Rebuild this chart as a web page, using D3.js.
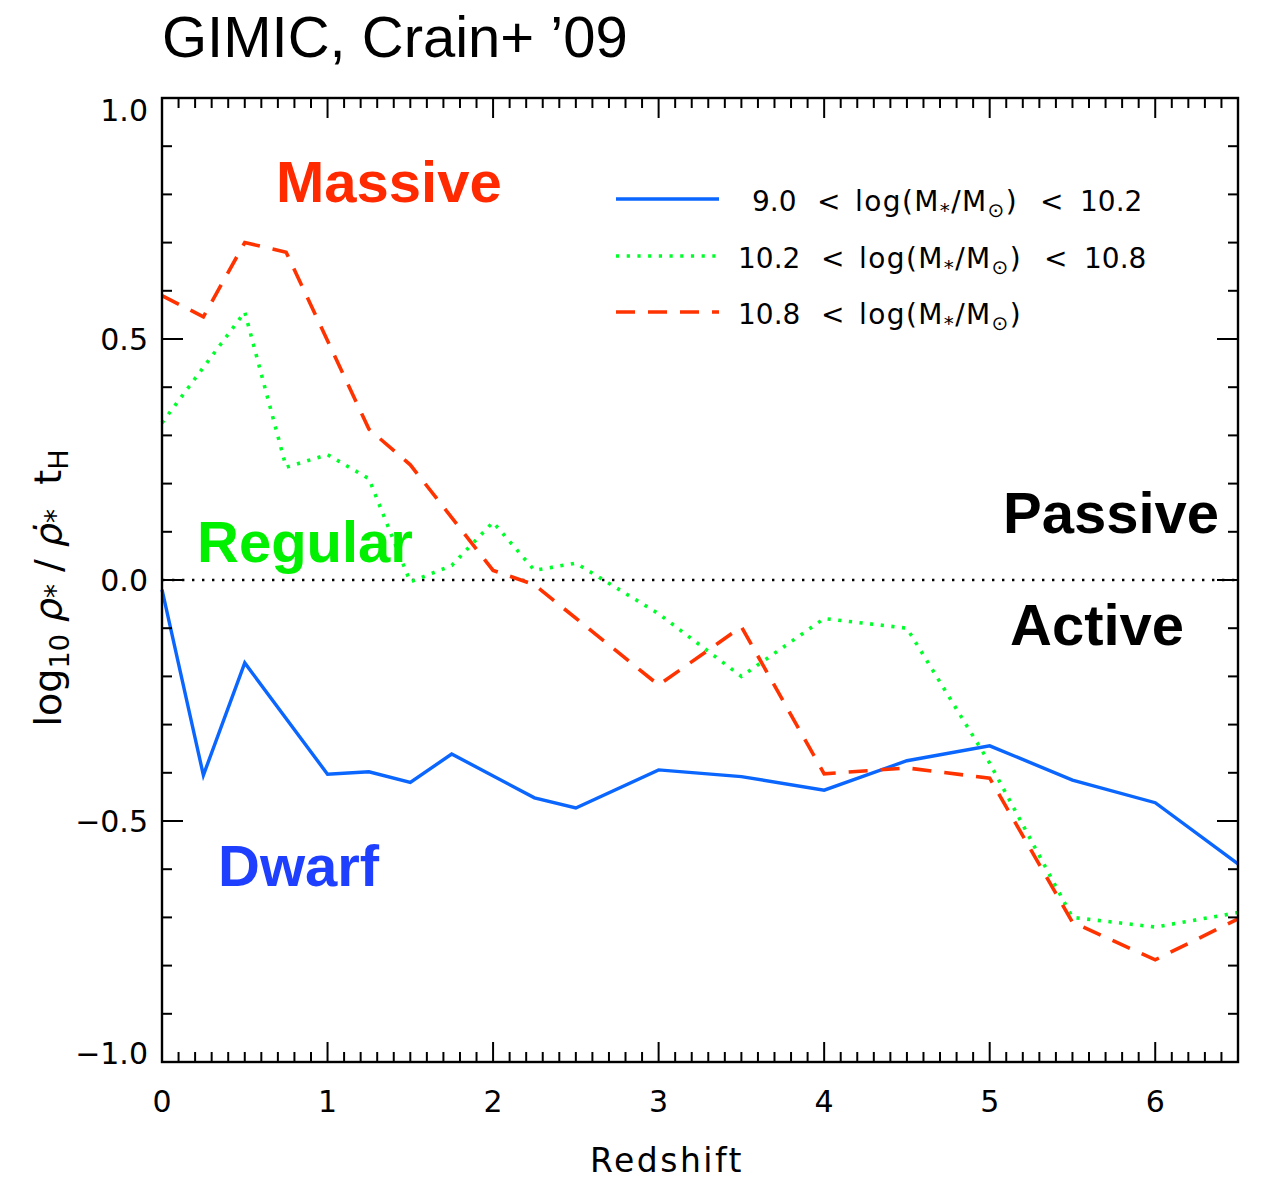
<!DOCTYPE html>
<html>
<head>
<meta charset="utf-8">
<script src="https://cdn.jsdelivr.net/npm/d3@7"></script>
<style>
  html, body { margin: 0; padding: 0; background: #fff; }
  svg { display: block; }
  .lbl { font-family: "DejaVu Sans", sans-serif; font-weight: normal; fill: #000; }
  .bold { font-family: "Liberation Sans", Arial, sans-serif; font-weight: bold; }
</style>
</head>
<body>
<svg id="chart" width="1263" height="1181"></svg>
<script>
// GIMIC (Crain et al. 2009): ratio of stellar mass density to SFR x Hubble time, per mass bin
const dwarfZ   = [0, 0.25, 0.5, 1, 1.25, 1.5, 1.75, 2.25, 2.5, 3, 3.5, 4, 4.5, 5, 5.5, 6, 6.5];
const dwarfVal = [-0.02, -0.405, -0.172, -0.403, -0.398, -0.42, -0.361, -0.452, -0.473, -0.394, -0.408, -0.436, -0.375, -0.344, -0.415, -0.462, -0.589];

const regularZ   = [0, 0.5, 0.75, 1, 1.25, 1.5, 1.75, 2, 2.25, 2.5, 3, 3.5, 4, 4.5, 5, 5.5, 6, 6.5];
const regularVal = [0.326, 0.556, 0.234, 0.26, 0.21, -0.004, 0.03, 0.12, 0.02, 0.035, -0.07, -0.2, -0.08, -0.10, -0.38, -0.70, -0.72, -0.69];

const massiveZ   = [0, 0.25, 0.5, 0.75, 1.25, 1.5, 2, 2.25, 3, 3.5, 4, 4.5, 5, 5.5, 6, 6.5];
const massiveVal = [0.59, 0.546, 0.70, 0.68, 0.313, 0.239, 0.02, -0.01, -0.218, -0.097, -0.402, -0.39, -0.411, -0.71, -0.788, -0.703];

const xTickLabels = ["0", "1", "2", "3", "4", "5", "6"];
const yTickValues = [1.0, 0.5, 0.0, -0.5, -1.0];
const yTickLabels = ["1.0", "0.5", "0.0", "\u22120.5", "\u22121.0"];

const legendLo = ["9.0", "10.2", "10.8"];
const legendHi = ["10.2", "10.8", null];

const svg = d3.select("#chart");
const L = 162, R = 1238, T = 98, B = 1062;

const x = d3.scaleLinear().domain([0, 6.5]).range([L, R]);
const y = d3.scaleLinear().domain([-1, 1]).range([B, T]);

const series = [
  { z: dwarfZ,   v: dwarfVal,   color: "#0a66ff", dash: null,      width: 3.4 },
  { z: regularZ, v: regularVal, color: "#00ff2a", dash: "3.2,7.5", width: 3.6 },
  { z: massiveZ, v: massiveVal, color: "#ff3300", dash: "19,13",   width: 3.6 }
];

// Title
svg.append("text").attr("x", 162).attr("y", 57)
  .attr("font-family", "Liberation Sans, Arial, sans-serif").attr("font-size", 58)
  .attr("fill", "#000").text("GIMIC, Crain+ \u201909");

// Zero reference line
svg.append("line").attr("x1", L).attr("x2", R).attr("y1", y(0)).attr("y2", y(0))
  .attr("stroke", "#000").attr("stroke-width", 2.4).attr("stroke-dasharray", "2.4,7.6");

// Series lines
const line = d3.line().x(d => x(d[0])).y(d => y(d[1]));
const plot = svg.append("g");
series.forEach(s => {
  const pts = s.z.map((z, i) => [z, s.v[i]]);
  plot.append("path").datum(pts).attr("d", line)
    .attr("fill", "none").attr("stroke", s.color).attr("stroke-width", s.width)
    .attr("stroke-linejoin", "miter").attr("stroke-dasharray", s.dash);
});

// Axes frame with inward ticks on all four sides
const axisG = svg.append("g").attr("stroke", "#000").attr("stroke-width", 2);
const xMinor = d3.range(0, 65 + 1).map(i => i / 10);
const yMinor = d3.range(-10, 10 + 1).map(i => i / 10);
xMinor.forEach(t => {
  const major = Math.abs(t - Math.round(t)) < 1e-9;
  const len = major ? 20 : 10;
  axisG.append("line").attr("x1", x(t)).attr("x2", x(t)).attr("y1", B).attr("y2", B - len);
  axisG.append("line").attr("x1", x(t)).attr("x2", x(t)).attr("y1", T).attr("y2", T + len);
});
yMinor.forEach(t => {
  const major = Math.abs(t * 2 - Math.round(t * 2)) < 1e-9;
  const len = major ? 21 : 10;
  axisG.append("line").attr("x1", L).attr("x2", L + len).attr("y1", y(t)).attr("y2", y(t));
  axisG.append("line").attr("x1", R).attr("x2", R - len).attr("y1", y(t)).attr("y2", y(t));
});
svg.append("rect").attr("x", L).attr("y", T).attr("width", R - L).attr("height", B - T)
  .attr("fill", "none").attr("stroke", "#000").attr("stroke-width", 2.4);

// Tick labels
svg.selectAll(".xt").data(xTickLabels).enter().append("text")
  .attr("class", "lbl").attr("font-size", 30).attr("text-anchor", "middle")
  .attr("x", (d, i) => x(i)).attr("y", 1112).text(d => d);

svg.selectAll(".yt").data(yTickValues).enter().append("text")
  .attr("class", "lbl").attr("font-size", 30).attr("text-anchor", "end")
  .attr("x", 148)
  .attr("y", d => y(d) + (d === 1 ? 23 : d === -1 ? 2 : 11))
  .text((d, i) => yTickLabels[i]);

// Axis titles
svg.append("text").attr("class", "lbl").attr("font-size", 33).attr("text-anchor", "middle")
  .attr("letter-spacing", 2.5)
  .attr("x", 667).attr("y", 1172).text("Redshift");

const yl = svg.append("text").attr("class", "lbl").attr("font-size", 38)
  .attr("text-anchor", "middle").attr("transform", "translate(61,588) rotate(-90)")
  .style("white-space", "pre");
yl.append("tspan").text("log");
yl.append("tspan").attr("font-size", 27).attr("dy", 8).text("10");
yl.append("tspan").attr("dy", -8).text(" ");
yl.append("tspan").attr("font-style", "italic").text("\u03C1");
yl.append("tspan").attr("font-size", 28).attr("dy", 4).text("*");
yl.append("tspan").attr("dy", -4).text(" / ");
yl.append("tspan").attr("font-style", "italic").text("\u03C1\u0307");
yl.append("tspan").attr("font-size", 28).attr("dy", 4).text("*");
yl.append("tspan").attr("dy", -4).text("  t");
yl.append("tspan").attr("font-size", 27).attr("dy", 7).text("H");

// Legend
const legendRows = [199, 256, 312];
const legendTextX = [752, 738, 738];
legendRows.forEach((ly, i) => {
  const s = series[i];
  svg.append("line").attr("x1", 616).attr("x2", 719).attr("y1", ly).attr("y2", ly)
    .attr("stroke", s.color).attr("stroke-width", s.width)
    .attr("stroke-dasharray", s.dash);
  const base = ly + 12;
  const off = i === 0 ? 0 : 4;
  svg.append("text").attr("class", "lbl").attr("font-size", 28)
    .attr("x", legendTextX[i]).attr("y", base).text(legendLo[i]);
  svg.append("text").attr("class", "lbl").attr("font-size", 28)
    .attr("x", 817 + off).attr("y", base).text("<");
  const t = svg.append("text").attr("class", "lbl").attr("font-size", 28)
    .attr("letter-spacing", 1.4)
    .attr("x", 855 + off).attr("y", base);
  t.append("tspan").text("log(M");
  t.append("tspan").attr("font-size", 20).attr("dy", 6).text("*");
  t.append("tspan").attr("dy", -6).text("/M");
  t.append("tspan").attr("font-size", 20).attr("dy", 6).text("\u2299");
  t.append("tspan").attr("dy", -6).text(")");
  if (legendHi[i]) {
    svg.append("text").attr("class", "lbl").attr("font-size", 28)
      .attr("x", 1040 + off).attr("y", base).text("<");
    svg.append("text").attr("class", "lbl").attr("font-size", 28)
      .attr("x", 1080 + off).attr("y", base).text(legendHi[i]);
  }
});

// Region annotations
const notes = [
  { t: "Massive", x: 276,  y: 202, c: "#ff2a00" },
  { t: "Regular", x: 197,  y: 562, c: "#00f000" },
  { t: "Dwarf",   x: 218,  y: 886, c: "#1f3fff" },
  { t: "Passive", x: 1003, y: 533, c: "#000" },
  { t: "Active",  x: 1010, y: 645, c: "#000" }
];
svg.selectAll(".note").data(notes).enter().append("text")
  .attr("class", "bold").attr("font-size", 58)
  .attr("x", d => d.x).attr("y", d => d.y).attr("fill", d => d.c).text(d => d.t);
</script>
</body>
</html>
